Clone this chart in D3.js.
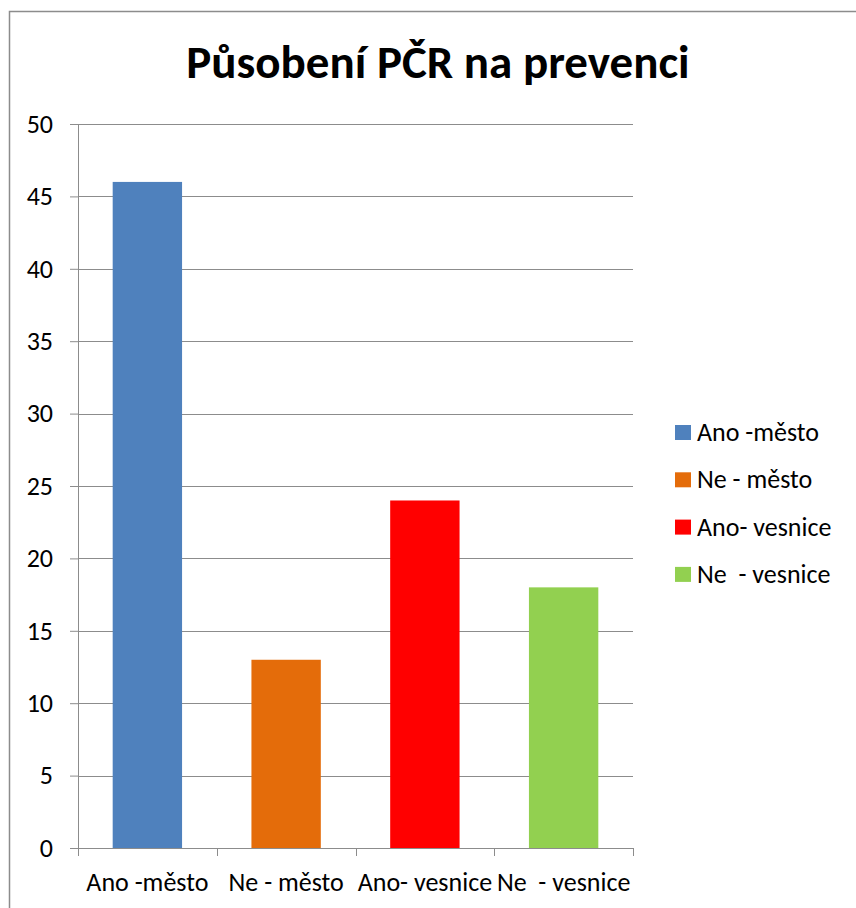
<!DOCTYPE html>
<html>
<head>
<meta charset="utf-8">
<script src="https://cdn.jsdelivr.net/npm/d3@7"></script>
<style>
  body { margin: 0; background: #fff; }
  svg text { font-family: Carlito, "Open Sans", "Liberation Sans", sans-serif; fill: #000; white-space: pre; }
</style>
</head>
<body>
<div id="chart"></div>
<script>
'use strict';

const title = "Působení PČR na prevenci";
const categories = ["Ano -město", "Ne - město", "Ano- vesnice", "Ne  - vesnice"];
const values = [46, 13, 24, 18];
const colors = ["#4F81BD", "#E46C0A", "#FF0000", "#92D050"];
const yTicks = [0, 5, 10, 15, 20, 25, 30, 35, 40, 45, 50];

const width = 856;
const height = 908;
const margin = { left: 78, right: 223, top: 124, bottom: 60 };
const plotW = width - margin.left - margin.right;
const plotH = height - margin.top - margin.bottom;

const svg = d3.select("#chart")
  .append("svg")
  .attr("width", width)
  .attr("height", height);

// outer chart frame
svg.append("rect")
  .attr("x", 9.5)
  .attr("y", 11.5)
  .attr("width", width)
  .attr("height", height)
  .attr("fill", "none")
  .attr("stroke", "#8c8c8c")
  .attr("stroke-width", 1.5);

svg.append("text")
  .attr("x", 438)
  .attr("y", 78)
  .attr("text-anchor", "middle")
  .style("font-size", "47px")
  .style("font-weight", "bold")
  .text(title);

const g = svg.append("g")
  .attr("transform", `translate(${margin.left}, ${margin.top})`);

const x = d3.scaleBand()
  .domain(categories)
  .range([0, plotW])
  .paddingInner(0.5)
  .paddingOuter(0.25);

const y = d3.scaleLinear()
  .domain([0, 50])
  .range([plotH, 0]);

// gridlines
g.append("g")
  .selectAll("line")
  .data(yTicks.filter(d => d > 0))
  .join("line")
  .attr("x1", 0)
  .attr("x2", plotW)
  .attr("y1", d => Math.round(y(d)) + 0.5)
  .attr("y2", d => Math.round(y(d)) + 0.5)
  .attr("stroke", "#8c8c8c")
  .attr("stroke-width", 1);

// bars
g.append("g")
  .selectAll("rect")
  .data(values)
  .join("rect")
  .attr("x", (d, i) => x(categories[i]))
  .attr("y", d => y(d))
  .attr("width", x.bandwidth())
  .attr("height", d => y(0) - y(d))
  .attr("fill", (d, i) => colors[i]);

// y axis
const yAxis = g.append("g")
  .call(d3.axisLeft(y).tickValues(yTicks).tickSize(8).tickPadding(17).tickSizeOuter(0));
yAxis.select(".domain").attr("stroke", "#8c8c8c");
yAxis.selectAll(".tick line").attr("stroke", "#8c8c8c");
yAxis.selectAll("text")
  .style("font-size", "26px")
  .attr("font-family", null);

// x axis: ticks at category boundaries
const step = plotW / categories.length;
const xAxis = g.append("g")
  .attr("transform", `translate(0, ${plotH})`);
xAxis.append("line")
  .attr("x1", 0)
  .attr("x2", plotW)
  .attr("y1", 0.5)
  .attr("y2", 0.5)
  .attr("stroke", "#8c8c8c");
xAxis.selectAll(".xtick")
  .data(d3.range(categories.length + 1))
  .join("line")
  .attr("class", "xtick")
  .attr("x1", i => Math.round(i * step) + 0.5)
  .attr("x2", i => Math.round(i * step) + 0.5)
  .attr("y1", 0)
  .attr("y2", 8)
  .attr("stroke", "#8c8c8c");
xAxis.selectAll(".xlabel")
  .data(categories)
  .join("text")
  .attr("class", "xlabel")
  .attr("x", d => x(d) + x.bandwidth() / 2)
  .attr("y", 43)
  .attr("text-anchor", "middle")
  .style("font-size", "26px")
  .text(d => d);

// legend
const legend = svg.append("g")
  .attr("transform", "translate(675, 425)");
categories.forEach((c, i) => {
  legend.append("rect")
    .attr("x", 0)
    .attr("y", i * 47.3)
    .attr("width", 16)
    .attr("height", 15)
    .attr("fill", colors[i]);
  legend.append("text")
    .attr("x", 22)
    .attr("y", i * 47.3 + 16)
    .style("font-size", "26px")
    .text(c);
});
</script>
</body>
</html>
